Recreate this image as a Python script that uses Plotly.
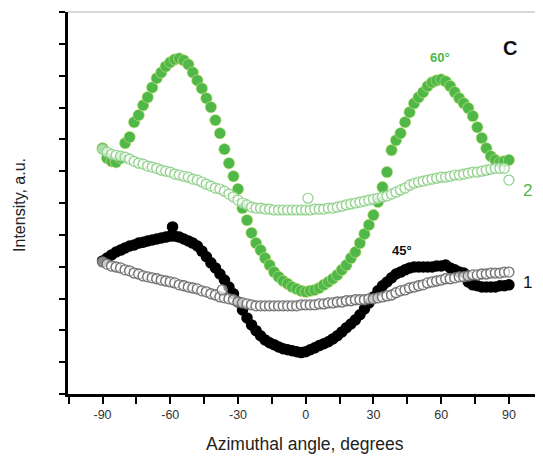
import plotly.graph_objects as go

# Azimuthal angle grid (degrees) at which the curves were read
angle = list(range(-90, 91, 2))

# Sample 2, 60 deg (filled green)
green_filled = [7.72, 7.41, 7.31, 7.28, 7.41, 7.88, 8.07, 8.54, 8.76, 9.07,
                9.32, 9.63, 9.92, 10.10, 10.29, 10.42, 10.51, 10.54, 10.48, 10.35,
                10.10, 9.85, 9.60, 9.29, 9.01, 8.60, 8.19, 7.69, 7.25, 6.84,
                6.44, 5.84, 5.46, 5.06, 4.74, 4.52, 4.27, 4.05, 3.83, 3.68,
                3.55, 3.46, 3.36, 3.30, 3.24, 3.21, 3.24, 3.27, 3.33, 3.43,
                3.52, 3.62, 3.74, 3.90, 4.05, 4.27, 4.46, 4.74, 5.03, 5.31,
                5.62, 6.03, 6.50, 6.97, 7.66, 7.97, 8.19, 8.54, 8.85, 9.13,
                9.32, 9.48, 9.67, 9.79, 9.85, 9.88, 9.82, 9.67, 9.48, 9.29,
                9.13, 8.98, 8.73, 8.38, 8.04, 7.72, 7.47, 7.35, 7.28, 7.31,
                7.35]

# Sample 2, reference (open green)
green_open = [7.69, 7.60, 7.53, 7.50, 7.47, 7.44, 7.38, 7.31, 7.25, 7.22,
              7.16, 7.13, 7.09, 7.03, 7.00, 6.97, 6.91, 6.88, 6.84, 6.81,
              6.75, 6.72, 6.66, 6.59, 6.53, 6.47, 6.44, 6.37, 6.28, 6.19,
              6.09, 6.00, 5.94, 5.87, 5.84, 5.84, 5.81, 5.81, 5.78, 5.78,
              5.78, 5.78, 5.78, 5.78, 5.78, 5.78, 5.78, 5.81, 5.81, 5.81,
              5.84, 5.84, 5.87, 5.90, 5.94, 5.97, 6.00, 6.03, 6.06, 6.09,
              6.12, 6.15, 6.19, 6.22, 6.28, 6.34, 6.41, 6.47, 6.56, 6.62,
              6.66, 6.69, 6.72, 6.75, 6.78, 6.81, 6.81, 6.84, 6.88, 6.88,
              6.91, 6.94, 6.97, 6.97, 7.00, 7.03, 7.06, 7.09, 7.09, 7.09,
              6.72]

# Sample 1, 45 deg (filled black)
black_filled = [4.18, 4.27, 4.37, 4.46, 4.52, 4.59, 4.65, 4.68, 4.74, 4.77,
                4.81, 4.84, 4.87, 4.90, 4.93, 4.96, 4.96, 4.93, 4.87, 4.81,
                4.74, 4.65, 4.49, 4.31, 4.12, 3.96, 3.77, 3.58, 3.36, 3.15,
                2.89, 2.64, 2.39, 2.17, 1.99, 1.83, 1.70, 1.61, 1.55, 1.48,
                1.42, 1.39, 1.36, 1.33, 1.30, 1.33, 1.39, 1.45, 1.52, 1.58,
                1.64, 1.73, 1.83, 1.95, 2.08, 2.20, 2.33, 2.49, 2.67, 2.86,
                3.05, 3.24, 3.40, 3.52, 3.65, 3.77, 3.83, 3.90, 3.96, 3.99,
                3.99, 3.99, 3.99, 3.99, 4.02, 4.02, 4.05, 3.96, 3.90, 3.83,
                3.80, 3.52, 3.43, 3.40, 3.36, 3.36, 3.36, 3.36, 3.40, 3.40,
                3.43]

# Sample 1, reference (open black)
black_open = [4.15, 4.08, 4.02, 3.99, 3.96, 3.90, 3.87, 3.80, 3.77, 3.71,
              3.68, 3.65, 3.62, 3.58, 3.55, 3.52, 3.49, 3.43, 3.40, 3.36,
              3.33, 3.30, 3.24, 3.21, 3.15, 3.11, 3.05, 3.02, 2.99, 2.96,
              2.89, 2.86, 2.83, 2.80, 2.77, 2.77, 2.77, 2.77, 2.77, 2.77,
              2.77, 2.77, 2.77, 2.77, 2.80, 2.80, 2.80, 2.80, 2.83, 2.83,
              2.86, 2.86, 2.89, 2.89, 2.93, 2.93, 2.96, 2.96, 2.96, 2.99,
              2.99, 3.02, 3.05, 3.08, 3.11, 3.18, 3.24, 3.27, 3.33, 3.36,
              3.40, 3.43, 3.49, 3.52, 3.55, 3.58, 3.62, 3.62, 3.65, 3.68,
              3.68, 3.71, 3.74, 3.74, 3.77, 3.77, 3.80, 3.80, 3.80, 3.83,
              3.83]

# A few stray points visible off the main curves
stray_black_filled_x = [-59]
stray_black_filled_y = [5.25]
stray_green_open_x = [1]
stray_green_open_y = [6.15]
stray_black_open_x = [-37]
stray_black_open_y = [3.27]

x_ticks = [-90, -60, -30, 0, 30, 60, 90]
x_tick_labels = ["-90", "-60", "-30", "0", "30", "60", "90"]

GREEN = "#4fb848"
GREEN_LIGHT = "#8fd08a"
FONT = "Arial, Liberation Sans, sans-serif"

fig = go.Figure()

fig.add_trace(go.Scatter(
    x=angle + stray_black_filled_x, y=black_filled + stray_black_filled_y,
    mode="markers",
    marker=dict(size=11.5, color="#000000", line=dict(width=0)),
    showlegend=False))
fig.add_trace(go.Scatter(
    x=angle + stray_black_open_x, y=black_open + stray_black_open_y,
    mode="markers",
    marker=dict(size=10, color="rgba(255,255,255,0.55)", line=dict(width=1.3, color="#707070")),
    showlegend=False))
fig.add_trace(go.Scatter(
    x=angle, y=green_filled,
    mode="markers",
    marker=dict(size=11.5, color=GREEN, line=dict(width=0.6, color="#d8e88a")),
    showlegend=False))
fig.add_trace(go.Scatter(
    x=angle + stray_green_open_x, y=green_open + stray_green_open_y,
    mode="markers",
    marker=dict(size=10, color="rgba(255,255,255,0.55)", line=dict(width=1.2, color=GREEN_LIGHT)),
    showlegend=False))

annotations = [
    dict(x=90.5, y=10.86, text="<b>C</b>", font=dict(size=20, color="#111111", family=FONT)),
    dict(x=59.6, y=10.57, text="<b>60°</b>", font=dict(size=13, color=GREEN, family=FONT)),
    dict(x=42.8, y=4.52, text="<b>45°</b>", font=dict(size=13, color="#111111", family=FONT)),
    dict(x=98.3, y=6.40, text="2", font=dict(size=17, color=GREEN, family=FONT)),
    dict(x=98.3, y=3.50, text="1", font=dict(size=17, color="#111111", family=FONT)),
]
for a in annotations:
    a.update(xref="x", yref="y", showarrow=False, xanchor="center", yanchor="middle")

annotations.append(dict(
    xref="paper", yref="paper", x=-0.101, y=0.495, text="Intensity, a.u.",
    textangle=-90, showarrow=False, xanchor="center", yanchor="middle",
    font=dict(size=16, color="#222222", family=FONT)))
annotations.append(dict(
    xref="paper", yref="paper", x=0.499, y=-0.132, text="Azimuthal angle, degrees",
    showarrow=False, xanchor="center", yanchor="middle",
    font=dict(size=17.5, color="#222222", family=FONT)))

# The page body has an 8px default margin, so the figure is 8px smaller
fig.update_layout(
    width=535, height=448,
    margin=dict(l=60, r=0, t=4, b=62),
    paper_bgcolor="#ffffff", plot_bgcolor="#ffffff",
    font=dict(family=FONT, size=12, color="#333333"),
    annotations=annotations,
    shapes=[dict(type="line", xref="paper", yref="paper", x0=0, x1=1, y0=1, y1=1,
                 line=dict(color="#b0b0b0", width=1))],
)
fig.update_xaxes(
    range=[-105.3, 105.1], tickvals=x_ticks, ticktext=x_tick_labels,
    ticks="outside", ticklen=7, tickwidth=2,
    tickcolor="#000000", showline=True, linecolor="#000000", linewidth=2.5,
    showgrid=False, zeroline=False, tickfont=dict(size=12.5, color="#333333"),
    minor=dict(dtick=15, tick0=0, ticks="outside", ticklen=7, tickwidth=2, tickcolor="#000000", showgrid=False),
)
fig.update_yaxes(
    range=[0, 12], dtick=1, tick0=0, ticks="outside", ticklen=6, tickwidth=2,
    tickcolor="#000000", showticklabels=False, showline=True, linecolor="#000000",
    linewidth=2.5, showgrid=False, zeroline=False,
)

fig.write_html("out.html")
